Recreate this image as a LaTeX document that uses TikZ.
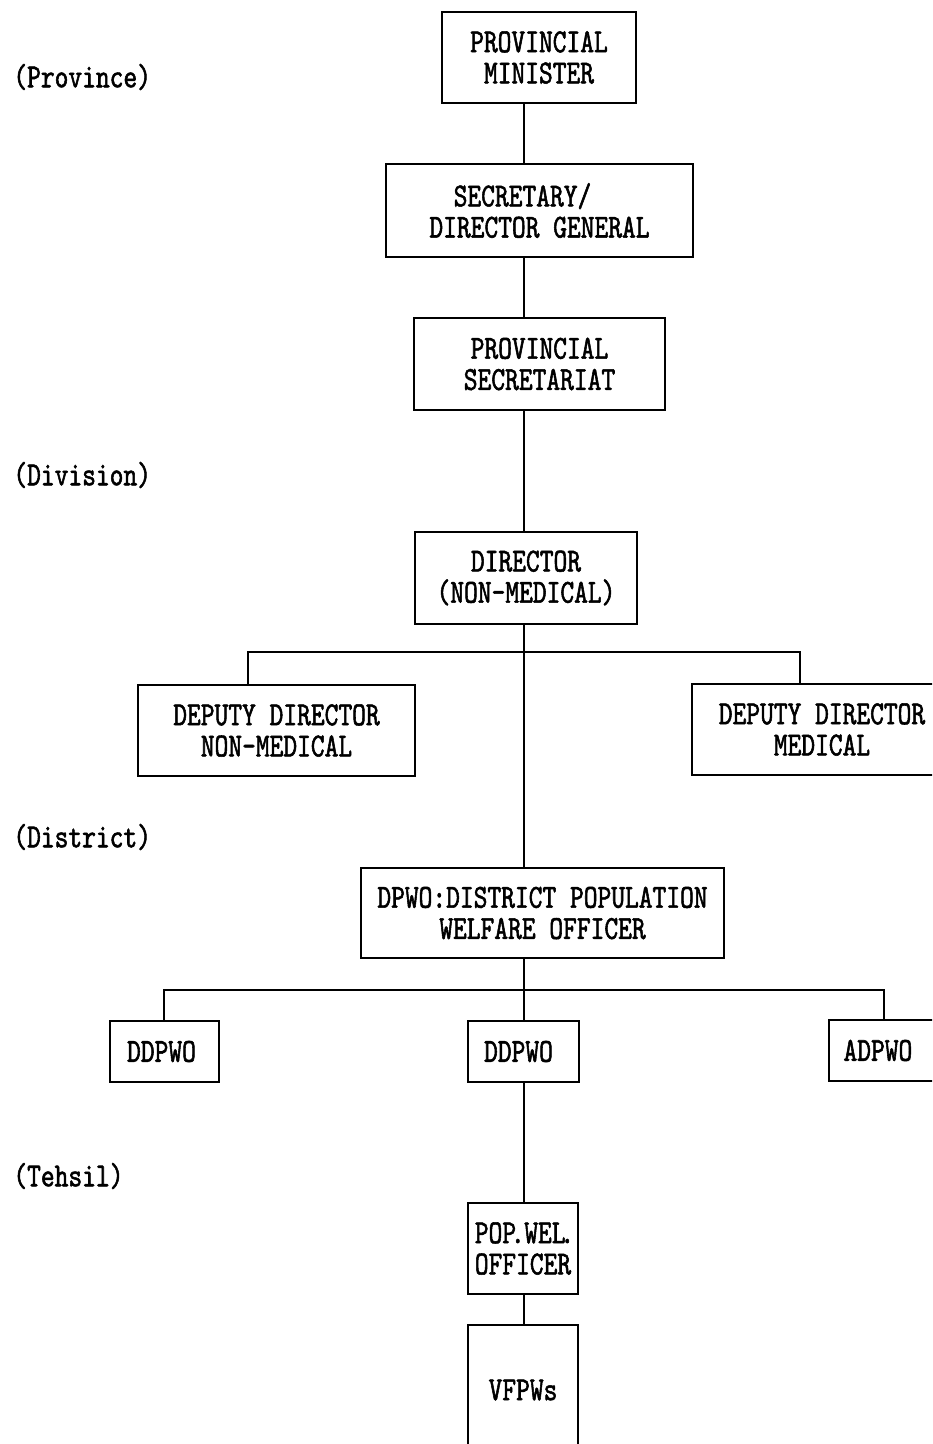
\documentclass[tikz,border=0pt]{standalone}
\usepackage{fontspec}
\newfontfamily\orgfam{lmmono10-regular.otf}[FakeStretch=0.78,FakeBold=1.6]
\newcommand\orgfont{\orgfam\fontsize{16.8pt}{15.6pt}\selectfont}
\tikzset{
  box/.style={draw, line width=0.9pt, inner sep=0pt, align=center, font=\orgfont},
  lvl/.style={anchor=west, inner sep=0pt, font=\orgfont},
  wire/.style={line width=0.9pt},
}
\begin{document}
\begin{tikzpicture}[x=0.5pt,y=-0.5pt]
\useasboundingbox (0,0) rectangle (932,1444);
\begin{scope}
\clip (0,0) rectangle (932,1444);
% level labels
\node[lvl] (lprov) at (13,77) {(Province)};
\node[lvl] (ldiv) at (13,475) {(Division)};
\node[lvl] (ldist) at (13,837) {(District)};
\node[lvl] (lteh) at (13,1176) {(Tehsil)};
% boxes
\node[box, minimum width=97pt, minimum height=45.5pt] (pm) at (539,57.5) {PROVINCIAL\\MINISTER};
\node[box, minimum width=153.5pt, minimum height=46.5pt] (sec) at (539.5,210.5) {SECRETARY/\hspace*{17pt}\\DIRECTOR GENERAL};
\node[box, minimum width=125.5pt, minimum height=46pt] (ps) at (539.5,364) {PROVINCIAL\\SECRETARIAT};
\node[box, minimum width=111pt, minimum height=46pt] (dir) at (526,578) {DIRECTOR\\(NON-MEDICAL)};
\node[box, minimum width=138.5pt, minimum height=45.5pt] (ddnm) at (276.5,730.5) {DEPUTY DIRECTOR\\NON-MEDICAL};
\node[box, minimum width=130pt, minimum height=45.5pt] (ddm) at (822,729.5) {DEPUTY DIRECTOR\\MEDICAL};
\node[box, minimum width=181.5pt, minimum height=45pt] (dpwo) at (542.5,913) {DPWO:DISTRICT POPULATION\\WELFARE OFFICER};
\node[box, minimum width=54.5pt, minimum height=30.5pt] (d1) at (164.5,1051.5) {DDPWO\hspace*{3pt}};
\node[box, minimum width=55.5pt, minimum height=30.5pt] (d2) at (523.5,1051.5) {DDPWO\hspace*{5pt}};
\node[box, minimum width=65pt, minimum height=30.5pt, anchor=west] (ad) at (828,1050.5) {ADPWO\hspace*{16pt}};
\node[box, minimum width=55pt, minimum height=45.5pt, align=left] (pwo) at (523,1248.5) {POP\kern-2.6pt.\kern-2.2pt\hspace{2pt}WEL\kern-2.6pt.\kern-2.6pt\\OFFICER};
\node[box, minimum width=55pt, minimum height=65pt] (vf) at (523,1390) {VFPWs};
% connector coordinates
\coordinate (trunk) at (524,0);
\coordinate (bl) at (248,652);
\coordinate (br) at (800,652);
\coordinate (cl) at (164,990);
\coordinate (cr) at (884,990);
% connectors
\draw[wire] (pm.south -| trunk) -- (sec.north -| trunk);
\draw[wire] (sec.south -| trunk) -- (ps.north -| trunk);
\draw[wire] (ps.south -| trunk) -- (dir.north -| trunk);
\draw[wire] (dir.south -| trunk) -- (dpwo.north -| trunk);
\draw[wire] (ddnm.north -| bl) -- (bl) -- (br) -- (ddm.north -| br);
\draw[wire] (dpwo.south -| trunk) -- (d2.north -| trunk);
\draw[wire] (d1.north -| cl) -- (cl) -- (cr) -- (ad.north -| cr);
\draw[wire] (d2.south -| trunk) -- (pwo.north -| trunk);
\draw[wire] (pwo.south -| trunk) -- (vf.north -| trunk);
\end{scope}
\end{tikzpicture}
\end{document}
